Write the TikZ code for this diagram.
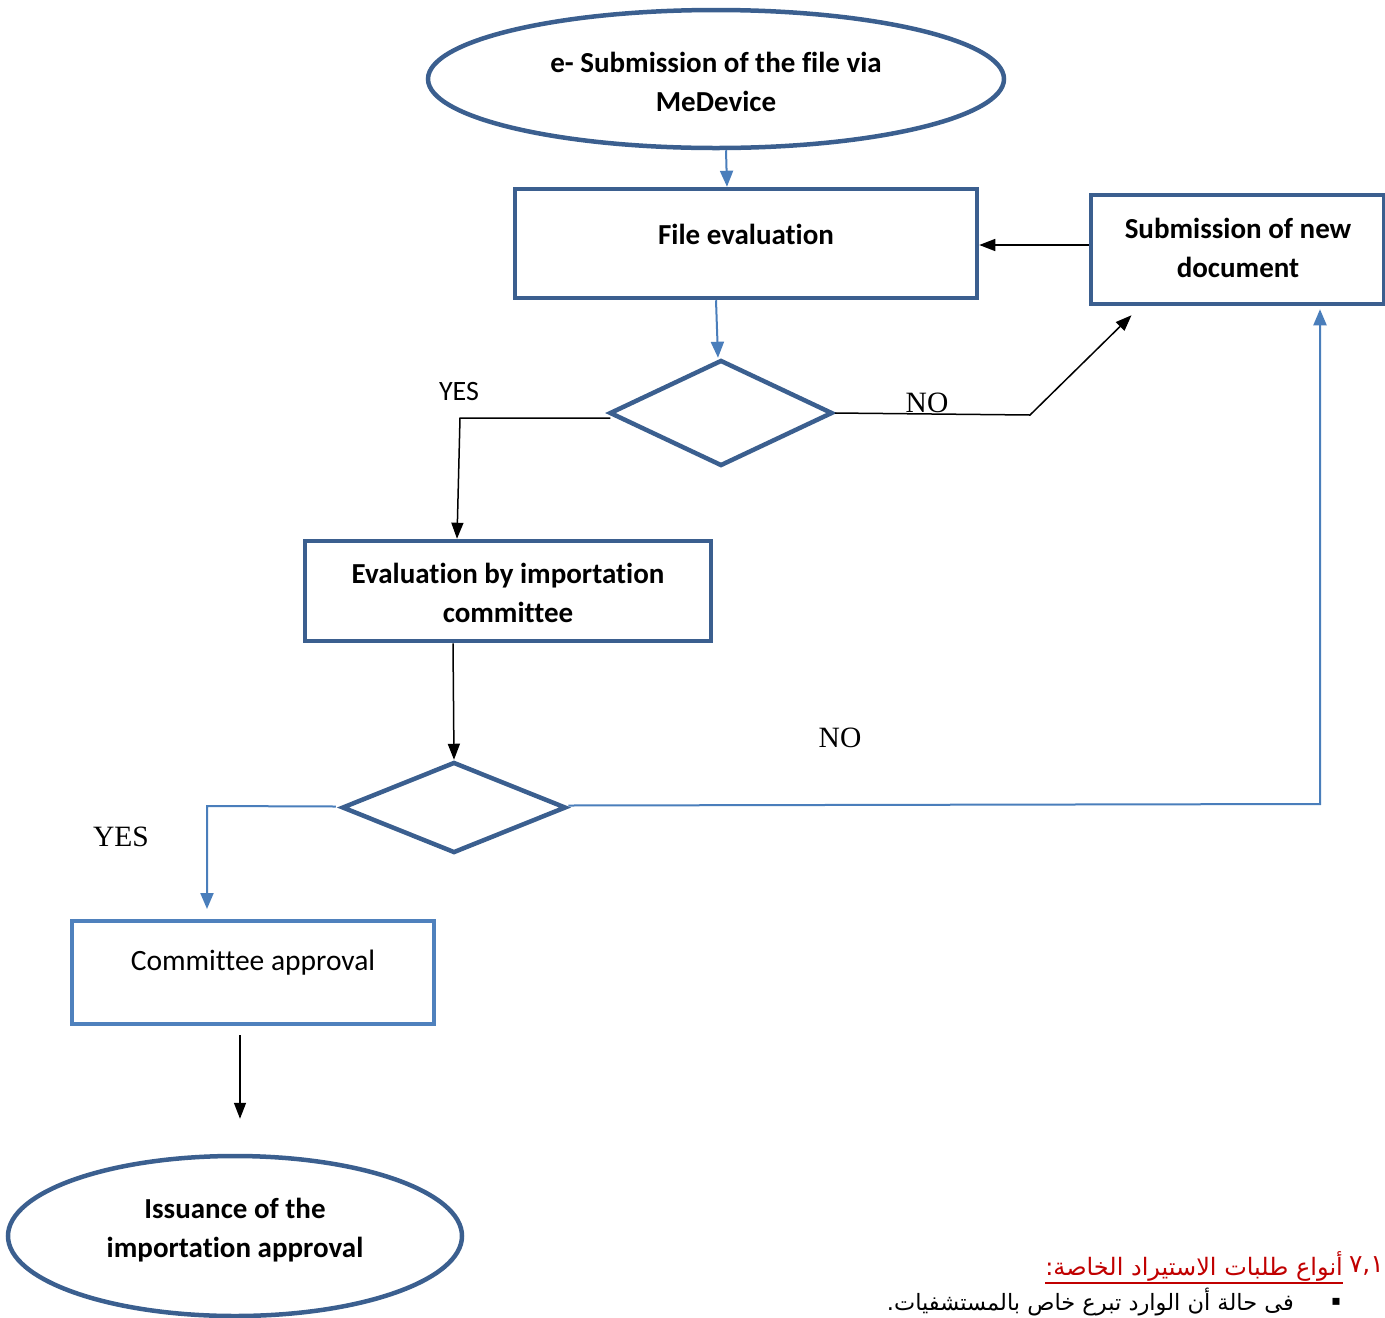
\documentclass[tikz,border=0pt]{standalone}
\usepackage{fontspec}
\setmainfont{Carlito}[Ligatures=CommonOff]
\newfontfamily\seriffont{Liberation Serif}
\newfontfamily\arabicfont[Script=Arabic]{DejaVu Sans}
\newfontfamily\symfont{DejaVu Sans}
\TeXXeTstate=1
\usetikzlibrary{shapes.geometric,arrows.meta,calc}
\definecolor{dkblue}{HTML}{3B5F8F}
\definecolor{ltblue}{HTML}{4A7EBB}
\definecolor{boxblue}{HTML}{4F81BD}
\definecolor{arred}{HTML}{C00000}
\begin{document}
\begin{tikzpicture}[x=1pt,y=-1pt,
  boxshape/.style={draw=dkblue,line width=4.5pt,rectangle,inner sep=0pt},
  ovalshape/.style={draw=dkblue,line width=4.5pt,ellipse,inner sep=0pt},
  dshape/.style={draw=dkblue,line width=4.5pt,diamond,inner sep=0pt},
  btext/.style={font=\fontsize{29}{38.5}\selectfont\bfseries,align=center,inner sep=0pt},
  rtext/.style={font=\fontsize{29.5}{38.5}\selectfont,align=center,inner sep=0pt},
  blueconn/.style={draw=ltblue,line width=2pt,-{Triangle[length=16pt,width=13pt]}},
  blackconn/.style={draw=black,line width=1.5pt,-{Triangle[length=16pt,width=12pt]}},
  serlabel/.style={font=\seriffont\fontsize{29.5}{32}\selectfont,inner sep=0pt},
  sanslabel/.style={font=\fontsize{28}{32}\selectfont,inner sep=0pt}]
\useasboundingbox (0,0) rectangle (1385,1318);

% shapes
\node[ovalshape,minimum width=576pt,minimum height=138pt] (e1) at (716,79) {};
\node[boxshape,minimum width=462pt,minimum height=109pt] (fe) at (746,243.5) {};
\node[boxshape,minimum width=293pt,minimum height=109pt] (sub) at (1237.5,249.5) {};
\node[dshape,minimum width=223pt,minimum height=106pt] (d1) at (721,413) {};
\node[boxshape,minimum width=406pt,minimum height=100pt] (ec) at (508,591) {};
\node[dshape,minimum width=224pt,minimum height=91pt] (d2) at (454,807.5) {};
\node[draw=boxblue,line width=4pt,rectangle,inner sep=0pt,minimum width=362pt,minimum height=103pt] (ca) at (253,972.5) {};
\node[ovalshape,minimum width=454pt,minimum height=160pt] (e2) at (235,1236) {};

% texts
\node[btext] (t1) at (716,82) {e- Submission of the file via\\MeDevice};
\node[btext] (t2) at (746,234) {File evaluation};
\node[btext] (t3) at (1238,248) {Submission of new\\document};
\node[btext] (t4) at (508,593) {Evaluation by importation\\committee};
\node[rtext] (t5) at (253,963) {Committee approval};
\node[btext] (t6) at (235,1230) {Issuance of the\\importation approval};

% labels
\node[sanslabel] (yes1) at (459,392) {YES};
\node[serlabel] (no1) at (927,403) {NO};
\node[serlabel] (no2) at (840,738) {NO};
\node[serlabel] (yes2) at (121,837) {YES};

% connector bends
\coordinate (b1) at (460,418);
\coordinate (b2) at (1030,415);
\coordinate (b3) at (207,806);
\coordinate (b4) at (1320,804);

% connectors
\draw[blueconn] ([xshift=10pt]e1.south) -- ([xshift=-19pt]fe.north);
\draw[blackconn] ([yshift=4.5pt]sub.west) -- ([yshift=-1.5pt]fe.east);
\draw[blueconn] ([xshift=-30pt]fe.south) -- ([xshift=-3pt]d1.north);
\draw[blackconn] ([xshift=3pt,yshift=-5pt]d1.west) -- (b1) -- ([xshift=-51pt]ec.north);
\draw[blackconn] (d1.east) -- (b2) -- ([xshift=-106pt,yshift=-9pt]sub.south);
\draw[blackconn] ([xshift=-55pt]ec.south) -- (d2.north);
\draw[blueconn] ([xshift=-4pt,yshift=1pt]d2.west) -- (b3) -- ([xshift=-46pt,yshift=10pt]ca.north);
\draw[blueconn] ([yshift=2pt]d2.east) -- (b4) -- ([xshift=82.5pt,yshift=-3pt]sub.south);
\draw[blackconn] ([xshift=-13pt,yshift=-9pt]ca.south) -- ([xshift=5pt,yshift=35pt]e2.north);

% Arabic text
\node[anchor=east,inner sep=0pt,text=arred,font=\arabicfont\fontsize{25}{30}\selectfont] (num) at (1384,1266) {\beginR ٧,١\endR};
\node[anchor=east,inner sep=0pt,text=arred,font=\arabicfont\fontsize{24}{28}\selectfont] (ttl) at (1343,1266) {\beginR أنواع طلبات الاستيراد الخاصة:\endR};
\draw[arred,line width=1.5pt] ([yshift=-2pt]ttl.south west) -- ([yshift=-2pt]ttl.south east);
\node[inner sep=0pt,font=\symfont\fontsize{14}{16}\selectfont] (bul) at (1336,1302) {▪};
\node[anchor=east,inner sep=0pt,font=\arabicfont\fontsize{22.5}{26}\selectfont] (line2) at (1294,1302) {\beginR فى حالة أن الوارد تبرع خاص بالمستشفيات.\endR};
\end{tikzpicture}
\end{document}
